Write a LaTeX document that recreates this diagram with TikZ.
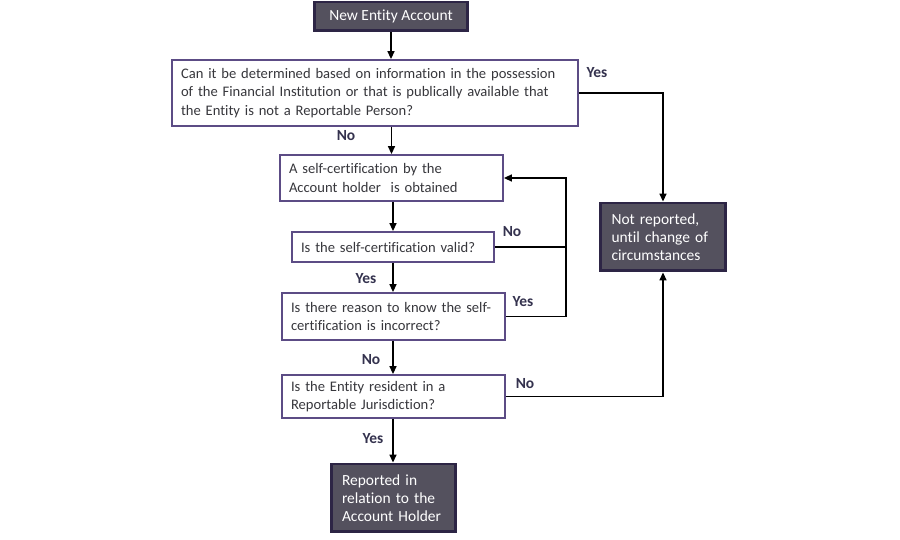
\documentclass[tikz,border=0pt]{standalone}
\usepackage{fontspec}
\setmainfont{Carlito}[Ligatures=NoCommon]
\definecolor{boxpurple}{RGB}{92, 76, 133}
\definecolor{darkfill}{RGB}{84, 81, 94}
\definecolor{darkedge}{RGB}{45, 37, 69}
\definecolor{textgray}{RGB}{55, 55, 60}
\definecolor{lblnavy}{RGB}{52, 50, 78}
\usetikzlibrary{arrows.meta, positioning, calc}

\tikzset{
  qbox/.style={draw=boxpurple, line width=1.1pt, fill=white, align=left, anchor=center,
    inner xsep=5pt, inner ysep=2pt, text=textgray, font=\fontsize{8.3}{10.6}\selectfont},
  endbox/.style={draw=darkedge, line width=1.7pt, fill=darkfill, align=left, anchor=center,
    inner xsep=6pt, inner ysep=2pt, text=white, font=\fontsize{8.8}{10.4}\selectfont},
  yesno/.style={text=lblnavy, font=\fontsize{8.8}{10}\selectfont\bfseries},
  flow/.style={draw=black, line width=0.8pt, -{Triangle[length=4.5pt,width=4pt]}},
  flowplain/.style={draw=black, line width=0.8pt}
}

\begin{document}
\hyphenpenalty=10000 \exhyphenpenalty=10000
\begin{tikzpicture}[x=0.02cm, y=-0.02cm]
  \useasboundingbox (0,0) rectangle (900,540);

  % start
  \node[endbox, align=center, minimum width=3.08cm, minimum height=0.58cm] (newacc) at (391,16.5) {New Entity Account};

  % questions
  \node[qbox, minimum width=8.12cm, minimum height=1.32cm, text width=7.76cm] (determine) at (375,93) {
    Can it be determined based on information in the possession\\
    of the Financial Institution or that is publically available that\\
    the Entity is not a Reportable Person?};

  \node[qbox, minimum width=4.46cm, minimum height=0.92cm, text width=4.1cm] (selfcert) at (391.5,178) {
    A self-certification by the\\
    Account holder\ \ is obtained};

  \node[qbox, minimum width=4.04cm, minimum height=0.6cm, text width=3.68cm] (valid) at (393,247) {
    Is the self-certification valid?};

  \node[qbox, minimum width=4.46cm, minimum height=0.94cm, text width=4.1cm] (incorrect) at (393.5,316.5) {
    Is there reason to know the self-\\
    certification is incorrect?};

  \node[qbox, minimum width=4.46cm, minimum height=0.86cm, text width=4.1cm] (resident) at (393.5,396.5) {
    Is the Entity resident in a\\
    Reportable Jurisdiction?};

  % outcomes
  \node[endbox, minimum width=2.5cm, minimum height=1.36cm, text width=2.06cm] (reported) at (393.5,498) {
    Reported in\\
    relation to the\\
    Account Holder};

  \node[endbox, minimum width=2.52cm, minimum height=1.36cm, text width=2.06cm] (notrep) at (663,237) {
    Not reported,\\
    until change of\\
    circumstances};

  % connectors
  \draw[flow] (newacc.south) -- (newacc.south |- determine.north);
  \draw[flow] (determine.south -| selfcert.north) -- (selfcert.north);
  \draw[flow] (determine.east) -| (notrep.north);
  \draw[flow] (selfcert.south -| valid.north) -- (valid.north);
  \coordinate (loopc) at (566,247);
  \draw[flow] (valid.east) -- (loopc) |- (selfcert.east);
  \draw[flow] (valid.south) -- (valid.south |- incorrect.north);
  \draw[flowplain] (incorrect.east) -| (loopc);
  \draw[flow] (incorrect.south -| valid.south) -- (valid.south |- resident.north);
  \draw[flow] (resident.east) -| (notrep.south);
  \draw[flow] (resident.south -| valid.south) -- (valid.south |- reported.north);

  % yes / no labels
  \node[yesno] (lyes1) at (597,73) {Yes};
  \node[yesno] (lno1) at (346,136) {No};
  \node[yesno] (lno2) at (512,232) {No};
  \node[yesno] (lyes2) at (366,279) {Yes};
  \node[yesno] (lyes3) at (523,302) {Yes};
  \node[yesno] (lno3) at (371,360) {No};
  \node[yesno] (lno4) at (525,384) {No};
  \node[yesno] (lyes4) at (373,439) {Yes};
\end{tikzpicture}
\end{document}
